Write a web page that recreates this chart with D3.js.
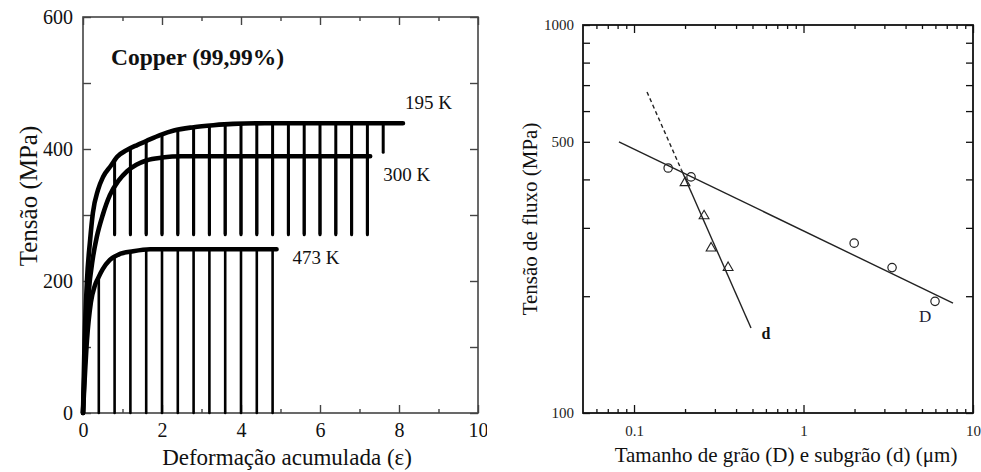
<!DOCTYPE html>
<html>
<head>
<meta charset="utf-8">
<script src="https://cdn.jsdelivr.net/npm/d3@7/dist/d3.min.js"></script>
<style>
  html, body { margin: 0; padding: 0; background: #fff; }
  svg { display: block; }
</style>
</head>
<body>
<svg id="chart" width="981" height="472"></svg>
<script>
const SERIF = '"Liberation Serif", "Times New Roman", serif';

// ---------- Left panel: flow curves of copper (99,99%) ----------
// accumulated strain / flow stress (MPa) along each flow curve
const strain195 = [0, 0.04, 0.1, 0.18, 0.25, 0.38, 0.51, 0.71, 0.86, 1.1, 1.37, 1.6, 1.95, 2.3, 2.8, 3.3, 3.8, 4.6, 6.0, 8.1];
const stress195 = [0, 110, 200, 262, 303, 338, 358, 375, 388, 398, 406, 412, 421, 428, 433, 436, 438, 439, 439, 439];
const strain300 = [0, 0.06, 0.14, 0.25, 0.35, 0.5, 0.68, 0.9, 1.11, 1.35, 1.62, 2.0, 2.5, 3.3, 5.0, 7.27];
const stress300 = [0, 100, 180, 235, 267, 300, 330, 352, 366, 376, 383, 387, 389, 389, 389, 389];
const strain473 = [0, 0.1, 0.2, 0.3, 0.38, 0.5, 0.68, 0.9, 1.27, 1.7, 2.5, 4.9];
const stress473 = [0, 110, 168, 193, 204, 218, 232, 240, 245, 248, 248, 248];

// strain at each reloading pass and the stress each reload line starts from
const passes195 = [0.8, 1.2, 1.6, 2.0, 2.4, 2.8, 3.2, 3.6, 4.0, 4.4, 4.8, 5.2, 5.6, 6.0, 6.4, 6.8, 7.2, 7.6];
const reloadBase195 = [270, 270, 270, 270, 270, 270, 270, 270, 270, 270, 270, 270, 270, 270, 270, 270, 270, 395];
const passes300 = [0.8, 1.2, 1.6, 2.0, 2.4, 2.8, 3.2, 3.6, 4.0, 4.4, 4.8, 5.2, 5.6, 6.0, 6.4, 6.8, 7.2];
const reloadBase300 = [272, 272, 272, 272, 272, 272, 272, 272, 272, 272, 272, 272, 272, 272, 272, 272, 272];
const passes473 = [0.4, 0.8, 1.2, 1.6, 2.0, 2.4, 2.8, 3.2, 3.6, 4.0, 4.4, 4.8];
const reloadBase473 = [0, 0, 0, 0, 0, 0, 0, 0, 0, 0, 0, 0];

const curveLabels = ["195 K", "300 K", "473 K"];
const strainTicks = [0, 2, 4, 6, 8, 10];
const stressTicks = [0, 200, 400, 600];

// ---------- Right panel: flow stress vs grain / subgrain size ----------
const grainSize = [0.159, 0.217, 1.99, 3.33, 5.97];      // D (µm)
const grainStress = [428, 406, 274, 237, 194];           // MPa
const subgrainSize = [0.2, 0.259, 0.285, 0.359];        // d (µm)
const subgrainStress = [392, 322, 266, 237];             // MPa
const grainFitX = [0.0815, 7.62], grainFitY = [500, 192];
const subFitDashX = [0.1193, 0.19], subFitDashY = [672, 424];
const subFitX = [0.19, 0.49], subFitY = [424, 165.6];
const sizeTicks = [0.1, 1, 10];
const flowTicks = [100, 500, 1000];

const svg = d3.select("#chart");
svg.append("rect").attr("width", 981).attr("height", 472).attr("fill", "#fff");

// ======== LEFT PANEL ========
svg.append("clipPath").attr("id", "leftClip")
  .append("rect").attr("x", 0).attr("y", 0).attr("width", 487).attr("height", 472);
const L = svg.append("g").attr("clip-path", "url(#leftClip)");

const xL = d3.scaleLinear().domain([0, 10]).range([83, 478]);
const yL = d3.scaleLinear().domain([0, 600]).range([413, 17]);
const frameL = "#444";

function styleAxis(g, color, fontSize) {
  g.select(".domain").remove();
  g.selectAll(".tick line").attr("stroke", color).attr("stroke-width", 1.4);
  g.selectAll(".tick text").attr("fill", "#111")
    .style("font-size", fontSize + "px").style("font-family", SERIF);
}

const oddStrain = d3.range(1, 10, 2);
const minorStress = [100, 300, 500];
// bottom
L.append("g").attr("transform", `translate(0,${yL(0)})`)
  .call(d3.axisBottom(xL).tickValues(strainTicks).tickSize(-8).tickPadding(10).tickFormat(d3.format("d")))
  .call(g => styleAxis(g, frameL, 20));
L.append("g").attr("transform", `translate(0,${yL(0)})`)
  .call(d3.axisBottom(xL).tickValues(oddStrain).tickSize(-4).tickFormat(""))
  .call(g => styleAxis(g, frameL, 20));
// top
L.append("g").attr("transform", `translate(0,${yL(600)})`)
  .call(d3.axisTop(xL).tickValues(strainTicks).tickSize(-8).tickFormat(""))
  .call(g => styleAxis(g, frameL, 20));
L.append("g").attr("transform", `translate(0,${yL(600)})`)
  .call(d3.axisTop(xL).tickValues(oddStrain).tickSize(-4).tickFormat(""))
  .call(g => styleAxis(g, frameL, 20));
// left
L.append("g").attr("transform", `translate(${xL(0)},0)`)
  .call(d3.axisLeft(yL).tickValues(stressTicks).tickSize(-8).tickPadding(10).tickFormat(d3.format("d")))
  .call(g => styleAxis(g, frameL, 20));
L.append("g").attr("transform", `translate(${xL(0)},0)`)
  .call(d3.axisLeft(yL).tickValues(minorStress).tickSize(-8).tickFormat(""))
  .call(g => styleAxis(g, frameL, 20));
// right
L.append("g").attr("transform", `translate(${xL(10)},0)`)
  .call(d3.axisRight(yL).tickValues(stressTicks.concat(minorStress)).tickSize(-8).tickFormat(""))
  .call(g => styleAxis(g, frameL, 20));

L.append("rect")
  .attr("x", xL(0)).attr("y", yL(600))
  .attr("width", xL(10) - xL(0)).attr("height", yL(0) - yL(600))
  .attr("fill", "none").attr("stroke", frameL).attr("stroke-width", 1.6);

const series = [
  { sx: strain195, sy: stress195, passes: passes195, base: reloadBase195, label: curveLabels[0], lw: 3, dx: 2, dy: -14 },
  { sx: strain300, sy: stress300, passes: passes300, base: reloadBase300, label: curveLabels[1], lw: 3, dx: 13, dy: 25 },
  { sx: strain473, sy: stress473, passes: passes473, base: reloadBase473, label: curveLabels[2], lw: 2.6, dx: 16, dy: 15 }
];

function stressAt(sx, sy, e) {
  const i = Math.max(1, d3.bisectLeft(sx, e));
  const t = (e - sx[i - 1]) / (sx[i] - sx[i - 1]);
  return sy[i - 1] + t * (sy[i] - sy[i - 1]);
}

const lineL = d3.line().x(d => xL(d[0])).y(d => yL(d[1])).curve(d3.curveMonotoneX);

series.forEach(s => {
  // reloading segments of every pass
  L.append("g").selectAll("line").data(s.passes.map((e, i) => [e, s.base[i], stressAt(s.sx, s.sy, e)]))
    .join("line")
    .attr("x1", d => xL(d[0])).attr("x2", d => xL(d[0]))
    .attr("y1", d => yL(d[1])).attr("y2", d => yL(d[2]))
    .attr("stroke", "#000").attr("stroke-width", s.lw).attr("stroke-linecap", "round");
});
series.forEach(s => {
  L.append("path").datum(s.sx.map((e, i) => [e, s.sy[i]]))
    .attr("d", lineL).attr("fill", "none").attr("stroke", "#000")
    .attr("stroke-width", 4.6).attr("stroke-linecap", "round").attr("stroke-linejoin", "round");
  const n = s.sx.length - 1;
  L.append("text").attr("x", xL(s.sx[n]) + s.dx).attr("y", yL(s.sy[n]) + s.dy)
    .style("font-family", SERIF).style("font-size", "19px").attr("fill", "#111").text(s.label);
});

L.append("text").attr("x", 111).attr("y", 65)
  .style("font-family", SERIF).style("font-size", "23.5px").style("font-weight", "bold")
  .attr("fill", "#111").text("Copper (99,99%)");

L.append("text").attr("x", 287).attr("y", 465).attr("text-anchor", "middle")
  .style("font-family", SERIF).style("font-size", "23px").attr("fill", "#111").text("Deformação acumulada (ε)");
L.append("text").attr("transform", "translate(37,196) rotate(-90)").attr("text-anchor", "middle")
  .style("font-family", SERIF).style("font-size", "25px").attr("fill", "#111").text("Tensão (MPa)");

// ======== RIGHT PANEL ========
const R = svg.append("g");
const xR = d3.scaleLog().domain([0.05, 10]).range([583, 973]);
const yR = d3.scaleLog().domain([100, 1000]).range([413, 25]);

const minorSize = [0.06, 0.07, 0.08, 0.09, 0.2, 0.3, 0.4, 0.5, 0.6, 0.7, 0.8, 0.9, 2, 3, 4, 5, 6, 7, 8, 9];
const minorFlow = [200, 300, 400, 600, 700, 800, 900];
const fmtSize = d => (d < 1 ? d3.format(".1f")(d) : d3.format("d")(d));

function styleAxisR(g) {
  g.select(".domain").remove();
  g.selectAll(".tick line").attr("stroke", "#111").attr("stroke-width", 1.3);
  g.selectAll(".tick text").attr("fill", "#222")
    .style("font-size", "15px").style("font-family", SERIF);
}

R.append("g").attr("transform", `translate(0,${yR(100)})`)
  .call(d3.axisBottom(xR).tickValues(sizeTicks).tickSize(-8).tickPadding(12).tickFormat(fmtSize)).call(styleAxisR);
R.append("g").attr("transform", `translate(0,${yR(100)})`)
  .call(d3.axisBottom(xR).tickValues(minorSize).tickSize(-4).tickFormat("")).call(styleAxisR);
R.append("g").attr("transform", `translate(0,${yR(1000)})`)
  .call(d3.axisTop(xR).tickValues(sizeTicks).tickSize(-8).tickFormat("")).call(styleAxisR);
R.append("g").attr("transform", `translate(0,${yR(1000)})`)
  .call(d3.axisTop(xR).tickValues(minorSize).tickSize(-4).tickFormat("")).call(styleAxisR);
R.append("g").attr("transform", `translate(${xR(0.05)},0)`)
  .call(d3.axisLeft(yR).tickValues(flowTicks).tickSize(-7).tickPadding(9).tickFormat(d3.format("d"))).call(styleAxisR);
R.append("g").attr("transform", `translate(${xR(0.05)},0)`)
  .call(d3.axisLeft(yR).tickValues(minorFlow).tickSize(-7).tickFormat("")).call(styleAxisR);
R.append("g").attr("transform", `translate(${xR(10)},0)`)
  .call(d3.axisRight(yR).tickValues(flowTicks.concat(minorFlow)).tickSize(-7).tickFormat("")).call(styleAxisR);

R.append("rect")
  .attr("x", xR(0.05)).attr("y", yR(1000))
  .attr("width", xR(10) - xR(0.05)).attr("height", yR(100) - yR(1000))
  .attr("fill", "none").attr("stroke", "#111").attr("stroke-width", 1.8);

const lineR = d3.line().x(d => xR(d[0])).y(d => yR(d[1]));
const pairs = (xs, ys) => xs.map((v, i) => [v, ys[i]]);

R.append("path").datum(pairs(grainFitX, grainFitY)).attr("d", lineR)
  .attr("fill", "none").attr("stroke", "#222").attr("stroke-width", 1.4);
R.append("path").datum(pairs(subFitX, subFitY)).attr("d", lineR)
  .attr("fill", "none").attr("stroke", "#222").attr("stroke-width", 1.4);
R.append("path").datum(pairs(subFitDashX, subFitDashY)).attr("d", lineR)
  .attr("fill", "none").attr("stroke", "#222").attr("stroke-width", 1.4).attr("stroke-dasharray", "4,3");

R.append("g").selectAll("circle").data(pairs(grainSize, grainStress)).join("circle")
  .attr("cx", d => xR(d[0])).attr("cy", d => yR(d[1])).attr("r", 4.2)
  .attr("fill", "none").attr("stroke", "#222").attr("stroke-width", 1.2);
const tri = d3.symbol().type(d3.symbolTriangle).size(42);
R.append("g").selectAll("path").data(pairs(subgrainSize, subgrainStress)).join("path")
  .attr("transform", d => `translate(${xR(d[0])},${yR(d[1])})`)
  .attr("d", tri).attr("fill", "none").attr("stroke", "#222").attr("stroke-width", 1.1);

const lastD = grainSize.length - 1;
R.append("text").attr("x", xR(grainSize[lastD]) - 10).attr("y", yR(grainStress[lastD]) + 21)
  .attr("text-anchor", "middle").style("font-family", SERIF).style("font-size", "17px")
  .attr("fill", "#223").text("D");
R.append("text").attr("x", xR(subFitX[1]) + 15).attr("y", yR(subFitY[1]) + 11)
  .attr("text-anchor", "middle").style("font-family", SERIF).style("font-size", "16px")
  .style("font-weight", "bold").attr("fill", "#111").text("d");

R.append("text").attr("x", 786).attr("y", 462).attr("text-anchor", "middle")
  .style("font-family", SERIF).style("font-size", "21px").attr("fill", "#111")
  .text("Tamanho de grão (D) e subgrão (d) (μm)");
R.append("text").attr("transform", "translate(537,219) rotate(-90)").attr("text-anchor", "middle")
  .style("font-family", SERIF).style("font-size", "21px").attr("fill", "#111")
  .text("Tensão de fluxo (MPa)");
</script>
</body>
</html>
